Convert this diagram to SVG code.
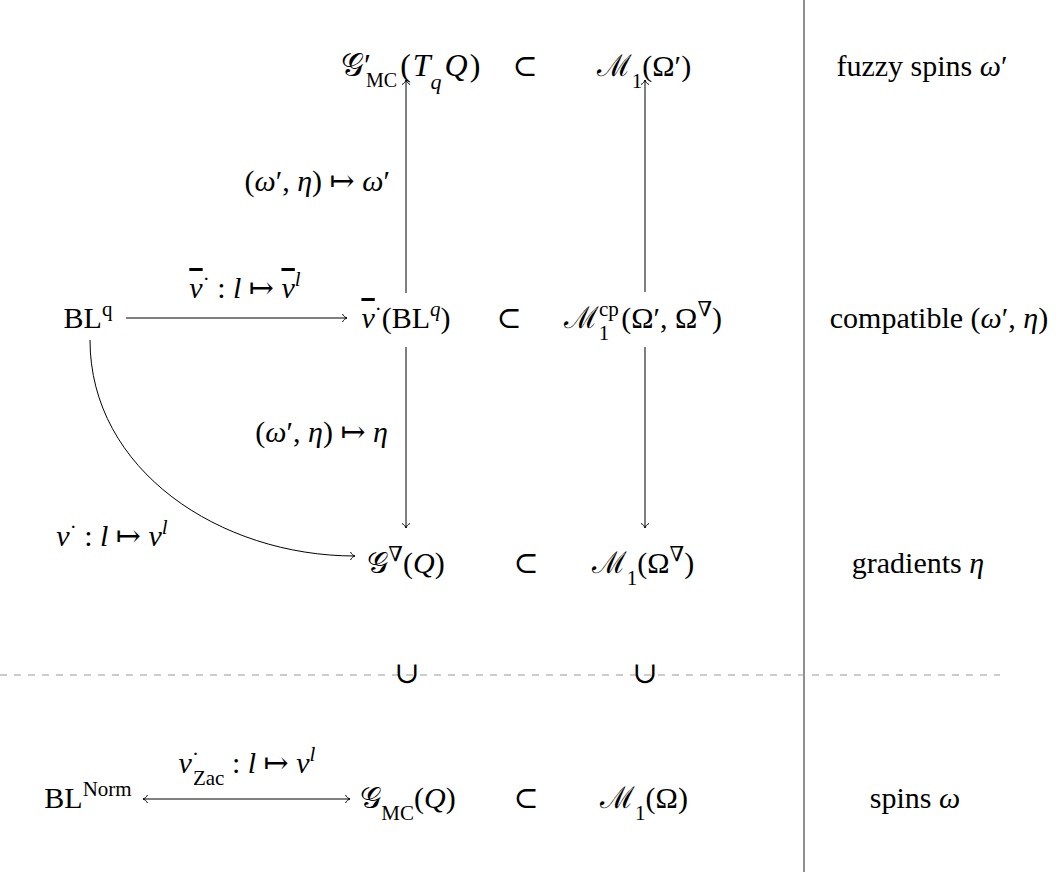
<svg xmlns="http://www.w3.org/2000/svg" width="1060" height="876" viewBox="0 0 1060 876">
<style>
text{font-family:"Liberation Serif","DejaVu Serif",serif;font-size:30px;fill:#000}
.i{font-style:italic}
.s{font-size:21px}
.bar{text-decoration:overline}
.ln{stroke:#000;stroke-width:1;fill:none}
</style>
<defs>
<marker id="to" viewBox="-6 -5 8 10" markerWidth="8" markerHeight="10" refX="0" refY="0" orient="auto-start-reverse" markerUnits="userSpaceOnUse">
<path d="M-4.5,-4 C-3.5,-1.5 -1.2,-0.4 0,0 C-1.2,0.4 -3.5,1.5 -4.5,4" fill="none" stroke="#000" stroke-width="1"/>
</marker>
</defs>
<rect width="1060" height="876" fill="#fff"/>
<g id="separators">
<line x1="804" y1="0" x2="804" y2="872" stroke="#444" stroke-width="1.2"/>
<line x1="0" y1="675" x2="1000" y2="675" stroke="#999" stroke-width="1" stroke-dasharray="7 7"/>
</g>
<g id="connectors">
<line class="ln" x1="406" y1="293" x2="406" y2="80" marker-end="url(#to)"/>
<line class="ln" x1="645" y1="292" x2="645" y2="80" marker-end="url(#to)"/>
<line class="ln" x1="406" y1="347" x2="406" y2="528" marker-end="url(#to)"/>
<line class="ln" x1="645" y1="347" x2="645" y2="528" marker-end="url(#to)"/>
<line class="ln" x1="126" y1="318" x2="347" y2="318" marker-end="url(#to)"/>
<path class="ln" d="M90,340 C90,470 220,556 355,556" marker-end="url(#to)"/>
<line class="ln" x1="143" y1="799" x2="350" y2="799" marker-start="url(#to)" marker-end="url(#to)"/>
</g>
<g id="labels">
<text x="390" y="191" text-anchor="end">(<tspan class="i">ω</tspan>′, <tspan class="i">η</tspan>) ↦ <tspan class="i">ω</tspan>′</text>
<text x="388" y="442" text-anchor="end">(<tspan class="i">ω</tspan>′, <tspan class="i">η</tspan>) ↦ <tspan class="i">η</tspan></text>
<text x="245" y="298" text-anchor="middle"><tspan class="i bar">ν</tspan><tspan class="s" baseline-shift="super">·</tspan> : <tspan class="i">l</tspan> ↦ <tspan class="i bar">ν</tspan><tspan class="s i" baseline-shift="super">l</tspan></text>
<text x="112" y="546" text-anchor="middle"><tspan class="i">ν</tspan><tspan class="s" baseline-shift="super">·</tspan> : <tspan class="i">l</tspan> ↦ <tspan class="i">ν</tspan><tspan class="s i" baseline-shift="super">l</tspan></text>
<text x="247" y="773" text-anchor="middle"><tspan class="i">ν</tspan><tspan class="s" baseline-shift="super">·</tspan><tspan class="s" baseline-shift="sub" dx="-6">Zac</tspan> : <tspan class="i">l</tspan> ↦ <tspan class="i">ν</tspan><tspan class="s i" baseline-shift="super">l</tspan></text>
<text x="407" y="683" text-anchor="middle">∪</text>
<text x="645" y="683" text-anchor="middle">∪</text>
</g>
<g id="n-GMCprime"><text x="341" y="76" style="font-size:32px">𝒢′<tspan style="font-size:20px" baseline-shift="sub" dx="-5">MC</tspan><tspan dx="3">(</tspan><tspan class="i" dx="2">T</tspan><tspan class="i" style="font-size:22px" baseline-shift="sub">q</tspan><tspan class="i" dx="3">Q</tspan><tspan dx="2">)</tspan></text></g>
<g id="sub-top"><text x="525" y="76" text-anchor="middle">⊂</text></g>
<g id="n-M1prime"><text x="644" y="76" text-anchor="middle">ℳ<tspan class="s" baseline-shift="sub">1</tspan>(Ω′)</text></g>
<g id="n-fuzzy"><text x="922" y="76" text-anchor="middle">fuzzy spins <tspan class="i">ω</tspan>′</text></g>
<g id="n-BLq"><text x="88" y="328" text-anchor="middle">BL<tspan class="s" baseline-shift="super">q</tspan></text></g>
<g id="n-nuBL"><text x="406" y="328" text-anchor="middle"><tspan class="i bar">ν</tspan><tspan class="s" baseline-shift="super">·</tspan>(BL<tspan class="s i" baseline-shift="super">q</tspan>)</text></g>
<g id="sub-mid"><text x="509" y="328" text-anchor="middle">⊂</text></g>
<g id="n-Mcp"><text x="643" y="328" text-anchor="middle">ℳ<tspan class="s" baseline-shift="super">cp</tspan><tspan class="s" baseline-shift="sub" dx="-20">1</tspan><tspan dx="12">(Ω′, Ω</tspan><tspan class="s" baseline-shift="super">∇</tspan>)</text></g>
<g id="n-compat"><text x="939" y="328" text-anchor="middle">compatible (<tspan class="i">ω</tspan>′, <tspan class="i">η</tspan>)</text></g>
<g id="n-Gnabla"><text x="406" y="573" text-anchor="middle">𝒢<tspan class="s" baseline-shift="super">∇</tspan>(<tspan class="i">Q</tspan>)</text></g>
<g id="sub-low"><text x="526" y="573" text-anchor="middle">⊂</text></g>
<g id="n-M1nabla"><text x="643" y="573" text-anchor="middle">ℳ<tspan class="s" baseline-shift="sub">1</tspan>(Ω<tspan class="s" baseline-shift="super">∇</tspan>)</text></g>
<g id="n-grad"><text x="918" y="573" text-anchor="middle">gradients <tspan class="i">η</tspan></text></g>
<g id="n-BLNorm"><text x="88" y="808" text-anchor="middle">BL<tspan class="s" baseline-shift="super">Norm</tspan></text></g>
<g id="n-GMC"><text x="408" y="808" text-anchor="middle">𝒢<tspan class="s" baseline-shift="sub">MC</tspan>(<tspan class="i">Q</tspan>)</text></g>
<g id="sub-bot"><text x="526" y="808" text-anchor="middle">⊂</text></g>
<g id="n-M1"><text x="644" y="808" text-anchor="middle">ℳ<tspan class="s" baseline-shift="sub">1</tspan>(Ω)</text></g>
<g id="n-spins"><text x="915" y="808" text-anchor="middle">spins <tspan class="i">ω</tspan></text></g>
</svg>
